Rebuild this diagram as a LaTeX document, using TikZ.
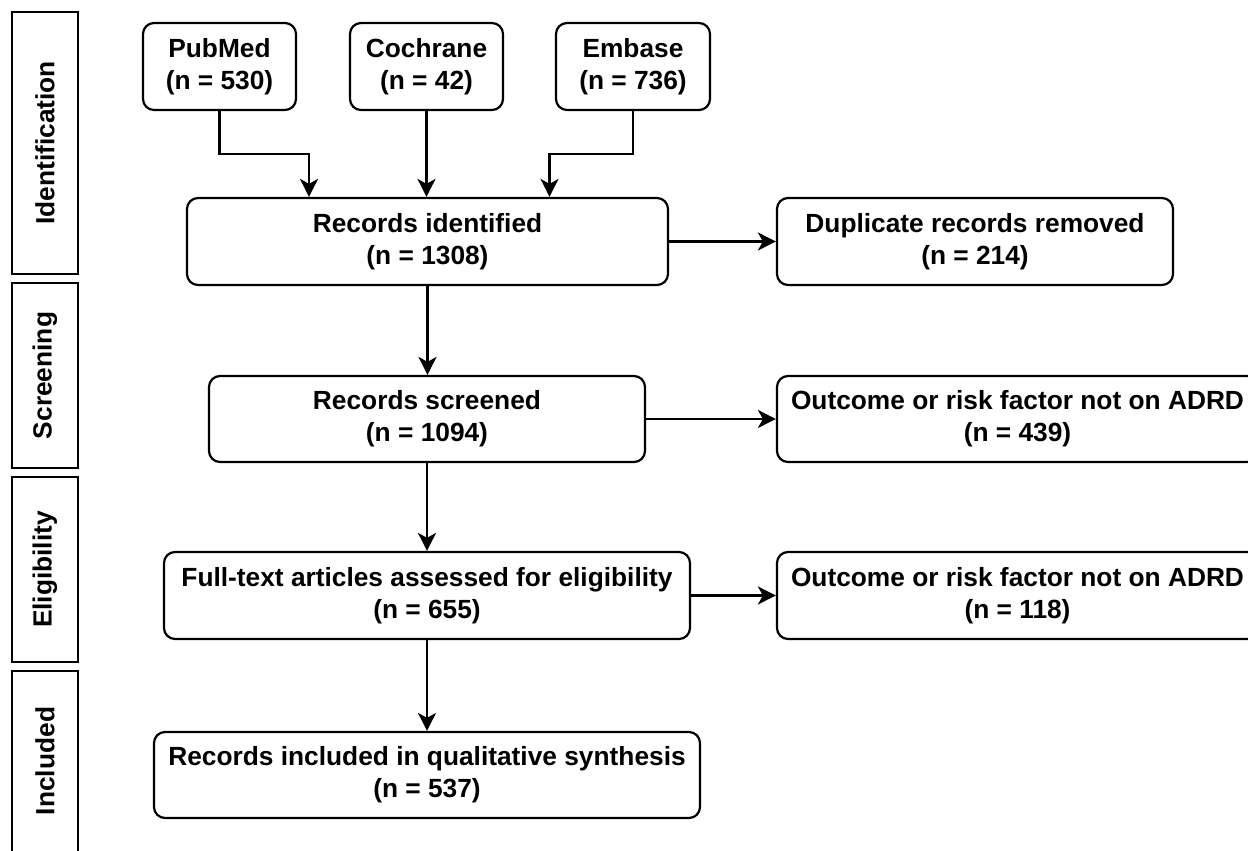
\documentclass[tikz,border=0pt]{standalone}
\usepackage{fontspec}
\setmainfont{Liberation Sans}
\usetikzlibrary{arrows.meta}
\begin{document}
\begin{tikzpicture}[x=1pt,y=-1pt,
  box/.style={draw, line width=2.2pt, rounded corners=11pt, align=center,
    font=\fontsize{26.3}{32}\selectfont\bfseries, inner sep=0pt},
  phase/.style={draw, line width=2.4pt, inner sep=0pt, minimum width=66pt},
  phasetext/.style={rotate=90, font=\fontsize{26.3}{30}\selectfont\bfseries},
  arr/.style={line width=2.2pt, -{Stealth[length=18pt,width=18pt,inset=5pt]}}]
\useasboundingbox (0,0) rectangle (1248,851);
\clip (0,0) rectangle (1248,851);
\fill[white] (0,0) rectangle (1248,851);

% phase labels
\node[phase, minimum height=262pt] (pid) at (45,143) {};
\node[phasetext] (tid) at (pid.center) {Identification};
\node[phase, minimum height=185pt] (psc) at (45,375.5) {};
\node[phasetext] (tsc) at (psc.center) {Screening};
\node[phase, minimum height=185pt] (pel) at (45,569.5) {};
\node[phasetext] (tel) at (pel.center) {Eligibility};
\node[phase, minimum height=190pt] (pin) at (45,766) {};
\node[phasetext] (tin) at (45,761) {Included};

% sources
\node[box, minimum width=153pt, minimum height=87pt] (pub) at (219.5,66.5) {PubMed\\(n = 530)};
\node[box, minimum width=153pt, minimum height=87pt] (coc) at (426.5,66.5) {Cochrane\\(n = 42)};
\node[box, minimum width=154pt, minimum height=87pt] (emb) at (633,66.5) {Embase\\(n = 736)};

% main flow
\node[box, minimum width=481pt, minimum height=87pt] (rid) at (427.5,241.5) {Records identified\\(n = 1308)};
\node[box, minimum width=396pt, minimum height=87pt] (dup) at (975,241.5) {Duplicate records removed\\(n = 214)};
\node[box, minimum width=436pt, minimum height=86pt] (scr) at (427,419) {Records screened\\(n = 1094)};
\node[box, minimum width=481pt, minimum height=86pt] (ex1) at (1017.5,419) {Outcome or risk factor not on ADRD\\(n = 439)};
\node[box, minimum width=526pt, minimum height=87pt] (ful) at (427,595.5) {Full-text articles assessed for eligibility\\(n = 655)};
\node[box, minimum width=481pt, minimum height=87pt] (ex2) at (1017.5,595.5) {Outcome or risk factor not on ADRD\\(n = 118)};
\node[box, minimum width=546pt, minimum height=86pt] (inc) at (427,775) {Records included in qualitative synthesis\\(n = 537)};

% connectors
\draw[arr] (pub.south) -- ++(0,43) -| ([xshift=-118.5pt]rid.north);
\draw[arr] (coc.south) -- (coc.south |- rid.north);
\draw[arr] (emb.south) -- ++(0,43) -| ([xshift=122pt]rid.north);
\draw[arr] (rid.east) -- (dup.west);
\draw[arr] (rid.south) -- (rid.south |- scr.north);
\draw[arr] (scr.east) -- (ex1.west);
\draw[arr] (scr.south) -- (scr.south |- ful.north);
\draw[arr] (ful.east) -- (ex2.west);
\draw[arr] (ful.south) -- (ful.south |- inc.north);
\end{tikzpicture}
\end{document}
